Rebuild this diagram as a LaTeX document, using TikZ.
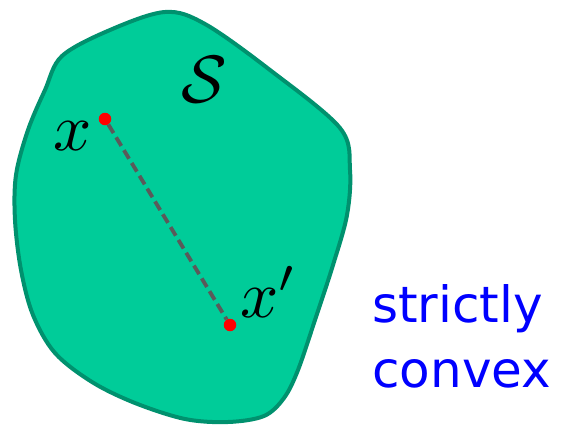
\documentclass[tikz,border=0pt]{standalone}
\usepackage{graphicx}
\usepackage{fontspec}
\newfontfamily\labelfont{DejaVu Sans}
\definecolor{blobfill}{RGB}{0,204,153}
\definecolor{blobline}{RGB}{0,145,110}
\definecolor{segline}{RGB}{90,90,90}
\tikzset{
  blob/.style={fill=blobfill, draw=blobline, line width=4pt, line join=round},
  pt/.style={circle, fill=red, inner sep=0pt, minimum size=12.5pt},
  seg/.style={draw=segline, dashed, line width=3.8pt, dash pattern=on 10pt off 5pt},
  mlabel/.style={inner sep=0pt},
  note/.style={font=\labelfont\fontsize{50}{65}\selectfont, text=blue, align=left, inner sep=0pt}
}
\newcommand{\bigmath}[1]{\scalebox{6.7}{$#1$}}
\begin{document}
\begin{tikzpicture}[x=1pt,y=-1pt]
\useasboundingbox (0,0) rectangle (577,434);
\draw[blob] plot[smooth cycle, tension=0.55] coordinates {
 (62,56) (110,30) (165,12) (205,24) (270,70) (340,128) (350,170) (347,215)
 (333,265) (315,320) (298,370) (284,398) (264,416) (228,422) (185,419)
 (135,403) (92,382) (55,353) (33,315) (21,270) (15,220) (16,175) (28,130) (45,90)};
\node[pt] (a) at (105,119) {};
\node[pt] (b) at (230,325) {};
\draw[seg] (a) -- (b);
\node[mlabel] (xl) at (73,136) {\bigmath{x}};
\node[mlabel] (xpl) at (269,292) {\bigmath{x'}};
\node[mlabel] (S) at (204,80) {\bigmath{\mathcal{S}}};
\node[note, anchor=north west] (txt) at (372,284) {strictly\\convex};
\end{tikzpicture}
\end{document}
